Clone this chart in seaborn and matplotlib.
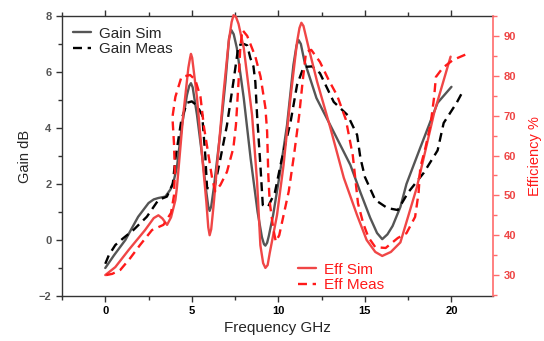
import matplotlib
matplotlib.use("Agg")
import matplotlib.pyplot as plt
import seaborn as sns
from matplotlib.ticker import MultipleLocator

# Gain (dB) curves
gain_sim_f = [0, 0.5, 1.16, 1.9, 2.5, 2.8, 3.07, 3.47, 3.76, 3.95, 4.14, 4.43, 4.72, 4.85, 4.95, 5.05,
              5.3, 5.59, 5.84, 5.95, 6.03, 6.12, 6.27, 6.65, 6.94, 7.15, 7.28, 7.42, 7.6, 8.0, 8.4, 8.8,
              9.05, 9.17, 9.25, 9.35, 9.45, 9.7, 10.1, 10.5, 10.87, 11.05, 11.17, 11.3, 11.5, 12.2, 13.0,
              14.16, 14.74, 15.3, 15.7, 16.0, 16.3, 16.6, 17.05, 17.4, 18.2, 19.2, 20.0]
gain_sim = [-1.0, -0.55, 0.0, 0.83, 1.32, 1.45, 1.5, 1.55, 1.8, 2.1, 2.6, 4.1, 5.18, 5.5, 5.6, 5.45,
            4.46, 3.04, 1.7, 1.2, 1.04, 1.2, 1.86, 3.86, 5.64, 7.2, 7.5, 7.35, 6.86, 5.07, 2.9, 1.0,
            0.1, -0.15, -0.2, -0.1, 0.15, 0.9, 2.43, 4.1, 6.25, 6.95, 7.14, 7.0, 6.4, 5.07, 4.1,
            2.68, 1.7, 0.8, 0.25, 0.03, 0.2, 0.5, 1.18, 2.0, 3.3, 4.9, 5.47]

gain_meas_f = [0, 0.2, 0.58, 1.05, 1.63, 2.4, 3.07, 3.56, 3.9, 4.05, 4.4, 4.72, 5.0, 5.3, 5.6, 5.78, 5.88,
               6.1, 6.3, 6.65, 7.03, 7.4, 7.7, 8.0, 8.2, 8.38, 8.56, 8.67, 8.77, 8.96, 9.1, 9.4, 9.8,
               10.2, 10.7, 11.08, 11.46, 11.95, 12.4, 13.2, 14.0, 14.55, 14.74, 15.0, 15.6, 16.3, 16.9,
               17.5, 18.4, 19.2, 19.55, 20.3, 20.7]
gain_meas = [-0.85, -0.55, -0.18, 0.07, 0.36, 0.83, 1.43, 1.55, 2.0, 2.9, 4.3, 4.9, 4.95, 4.8, 4.46, 3.0, 1.86,
             1.8, 1.85, 2.9, 4.1, 5.64, 6.96, 7.0, 6.95, 6.5, 6.2, 5.64, 4.46, 2.68, 1.25, 1.18, 1.7,
             2.9, 4.2, 5.54, 6.18, 6.2, 5.96, 4.93, 4.46, 3.75, 2.93, 2.25, 1.43, 1.14, 1.07,
             1.7, 2.4, 3.2, 4.18, 4.9, 5.36]

# Efficiency (%) curves
eff_sim_f = [0, 0.58, 1.35, 2.3, 2.8, 3.07, 3.3, 3.57, 3.8, 4.05, 4.14, 4.5, 4.8, 4.9, 4.95, 5.02, 5.3,
             5.59, 5.84, 5.95, 6.03, 6.12, 6.26, 6.55, 6.84, 7.13, 7.3, 7.41, 7.55, 7.7, 8.0, 8.48, 8.77,
             8.96, 9.12, 9.25, 9.38, 9.5, 9.92, 10.3, 10.7, 11.08, 11.22, 11.33, 11.45, 11.75, 12.24,
             13.0, 13.78, 14.55, 15.1, 15.6, 16.0, 16.5, 17.05, 18.0, 19.0, 19.95]
eff_sim = [30, 32, 36.3, 41.3, 44.3, 45, 44.2, 42.6, 44.5, 48.8, 52, 70, 82, 84.5, 85.5, 84.5, 74.5,
           60.1, 48.3, 42, 40, 41.5, 47.6, 61.9, 76, 88.5, 93.5, 95.2, 94.8, 93, 87, 70.2, 53.4,
           37.5, 33, 31.8, 32.5, 35.5, 45, 57.6, 74.5, 88.5, 92, 93.3, 92.5, 87, 78.5,
           67, 54.4, 45, 38.8, 35.8, 34.8, 35.8, 38.2, 52, 70.7, 84.8]

eff_meas_f = [0.05, 0.4, 0.87, 1.45, 2.0, 2.7, 3.36, 3.8, 3.97, 4.02, 3.97, 3.88, 4.05, 4.4, 4.9, 5.2,
              5.5, 5.7, 5.98, 6.17, 6.35, 6.65, 7.03, 7.4, 7.55, 7.7, 7.8, 7.92, 8.2, 8.67, 8.97, 9.25,
              9.35, 9.42, 9.5, 9.7, 9.85, 10.05, 10.3, 10.6, 10.9, 11.2, 11.4, 11.6, 11.9, 12.4, 12.9,
              13.4, 13.9, 14.3, 14.6, 14.9, 15.2, 15.6, 16.2, 16.9, 17.4, 17.9, 18.1, 18.2, 18.5, 18.8,
              19.0, 19.1, 19.5, 20.1, 20.8]
eff_meas = [30, 30.3, 31.3, 34.3, 37.5, 41.3, 42.6, 45.6, 50, 56, 63, 69.6, 74.7, 79.7, 80.2, 79,
            74.7, 67.2, 59.6, 54.4, 51, 52.6, 55.9, 61.9, 67.7, 78.5, 87, 91.5, 90, 84.8, 79.8, 72,
            66, 55, 48.3, 41.8, 38.4, 40, 45, 51, 60, 70, 78.5, 86, 86.5, 83.5, 79,
            75, 69, 60, 48, 43, 39.5, 37, 36.8, 39.3, 40.5, 44.6, 50.6, 57, 62, 68,
            74.7, 79.7, 82, 84, 85.3]

gray = "#555555"
red_sim = "#f04646"
red_meas = "#ff1a1a"

sns.set_style("ticks")
plt.rcParams["font.family"] = ["Liberation Sans", "DejaVu Sans"]

fig = plt.figure(figsize=(5.44, 3.41), dpi=100)
ax = fig.add_axes([62 / 544, 1 - 296 / 341, 431 / 544, 280 / 341])
ax2 = ax.twinx()

sns.lineplot(x=gain_sim_f, y=gain_sim, ax=ax, color=gray, lw=1.7, sort=False, estimator=None,
             label="Gain Sim")
sns.lineplot(x=gain_meas_f, y=gain_meas, ax=ax, color="black", lw=1.7, sort=False, estimator=None,
             dashes=False, linestyle=(0, (3.8, 2.4)), label="Gain Meas")
sns.lineplot(x=eff_sim_f, y=eff_sim, ax=ax2, color=red_sim, lw=1.7, sort=False, estimator=None,
             label="Eff Sim")
sns.lineplot(x=eff_meas_f, y=eff_meas, ax=ax2, color=red_meas, lw=1.7, sort=False, estimator=None,
             dashes=False, linestyle=(0, (3.8, 2.4)), label="Eff Meas")

for line in ax.get_lines() + ax2.get_lines():
    line.set_solid_joinstyle("round")
    line.set_dash_joinstyle("round")

ax.set_xlim(-2.5, 22.4)
ax.set_ylim(-2, 8)
ax2.set_ylim(24.75, 95)
for line in ax2.get_lines():
    line.set_clip_on(False)

ax.xaxis.set_major_locator(MultipleLocator(5))
ax.xaxis.set_minor_locator(MultipleLocator(2.5))
ax.yaxis.set_major_locator(MultipleLocator(2))
ax.yaxis.set_minor_locator(MultipleLocator(1))
ax2.yaxis.set_major_locator(MultipleLocator(10))
ax2.yaxis.set_minor_locator(MultipleLocator(5))

ax.tick_params(axis="x", which="both", direction="out", top=True, colors="#333333", width=1)
ax.tick_params(axis="x", which="major", length=4, labelsize=8, labelcolor="black")
ax.tick_params(axis="x", which="minor", length=3)
ax.tick_params(axis="y", which="major", length=4, width=1, colors="#333333", labelsize=8,
               labelcolor="#555555")
ax.tick_params(axis="y", which="minor", length=3, width=1, colors="#333333")
ax2.tick_params(axis="y", which="major", length=4, width=1, colors="#ff6b6b", labelsize=8,
                labelcolor="#ee4444")
ax2.tick_params(axis="y", which="minor", length=3, width=1, colors="#ff6b6b")
for lab in ax.get_xticklabels() + ax.get_yticklabels() + ax2.get_yticklabels():
    lab.set_fontweight("bold")

for s in ["left", "bottom", "top"]:
    ax.spines[s].set_color("#333333")
    ax.spines[s].set_linewidth(1)
ax2.spines["right"].set_color("#ff6b6b")
ax2.spines["right"].set_linewidth(1.2)
ax2.spines["top"].set_visible(False)
ax2.spines["left"].set_visible(False)
ax2.spines["bottom"].set_visible(False)
ax.spines["right"].set_visible(False)

ax.set_xlabel("Frequency GHz", fontsize=11, labelpad=3)
ax.set_ylabel("Gain dB", fontsize=10.5, labelpad=5)
ax2.set_ylabel("Efficiency %", fontsize=10.5, color="#ff1a1a", labelpad=9)

ax.legend(loc="upper left", bbox_to_anchor=(0.0, 1.0), frameon=False, fontsize=11,
          handlelength=1.2, handletextpad=0.5, labelspacing=0.1, borderaxespad=0.3)
ax2.legend(loc="lower left", bbox_to_anchor=(0.515, -0.035), frameon=False, fontsize=11,
           handlelength=1.2, handletextpad=0.5, labelspacing=0.1, labelcolor="#ff1a1a")

fig.savefig("out.png", dpi=100)
